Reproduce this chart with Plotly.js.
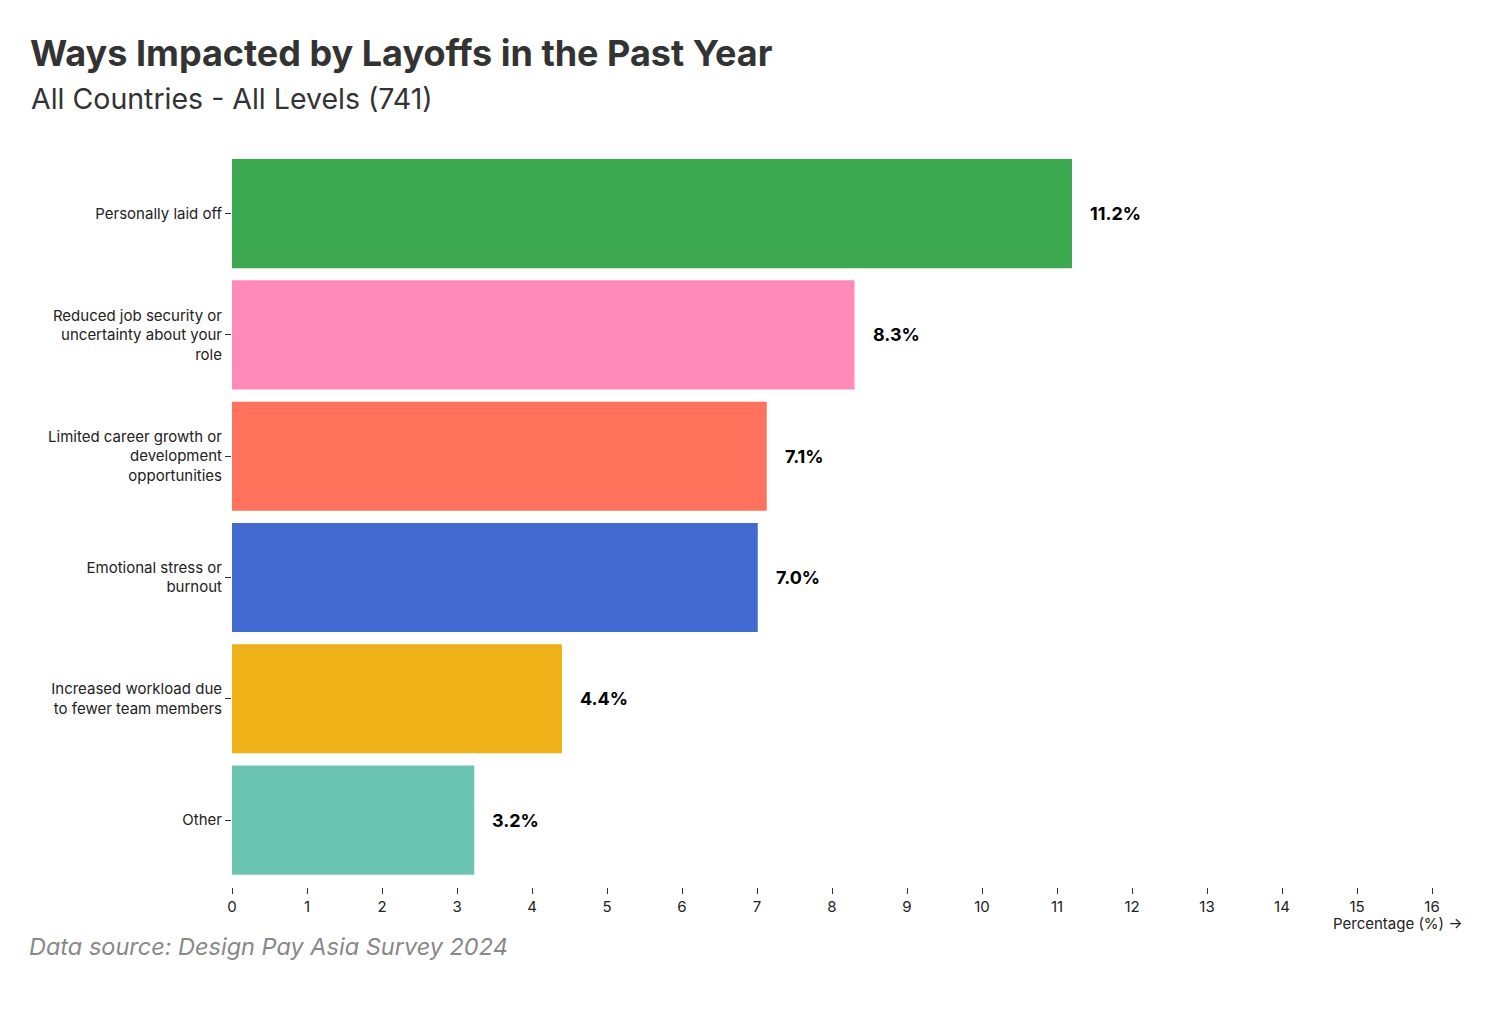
<!DOCTYPE html>
<html>
<head>
<meta charset="utf-8">
<script src="https://cdn.plot.ly/plotly-3.0.1.min.js"></script>
<style>
  html, body { margin: 0; padding: 0; background: #fff; }
  #chart { width: 1500px; height: 1022px; }
</style>
</head>
<body>
<div id="chart"></div>
<script>
// categories top to bottom
let categories = [
  'Personally laid off',
  'Reduced job security or<br>uncertainty about your<br>role',
  'Limited career growth or<br>development<br>opportunities',
  'Emotional stress or<br>burnout',
  'Increased workload due<br>to fewer team members',
  'Other'
];
let values = [11.2, 8.3, 7.13, 7.01, 4.4, 3.23];
let valueLabels = ['11.2%', '8.3%', '7.1%', '7.0%', '4.4%', '3.2%'];
let barColors = ['#3ca951', '#ff8ab7', '#ff725c', '#4269d0', '#efb118', '#6cc5b0'];
let xTicks = [0, 1, 2, 3, 4, 5, 6, 7, 8, 9, 10, 11, 12, 13, 14, 15, 16];

let font = 'Inter, "Noto Sans", sans-serif';

// plotly draws categories bottom-up, so reverse
let yCats = categories.slice().reverse();
let xVals = values.slice().reverse();
let cols = barColors.slice().reverse();
let labs = valueLabels.slice().reverse();

var trace = {
  type: 'bar',
  orientation: 'h',
  x: xVals,
  y: yCats,
  marker: { color: cols, line: { width: 0 } },
  hoverinfo: 'none'
};

var annotations = yCats.map(function (c, i) {
  return {
    x: xVals[i], y: c, xref: 'x', yref: 'y',
    text: '<b>' + labs[i] + '</b>',
    showarrow: false, xanchor: 'left', yanchor: 'middle', xshift: 16,
    font: { family: font, size: 18, color: '#000' }
  };
});

annotations.push({
  xref: 'paper', yref: 'paper', x: 1.0275, y: -0.0504,
  xanchor: 'right', yanchor: 'middle', showarrow: false,
  text: 'Percentage (%) →',
  font: { family: font, size: 15, color: '#222' }
});
annotations.push({
  xref: 'paper', yref: 'paper', x: -0.169, y: 1.0736,
  xanchor: 'left', yanchor: 'middle', showarrow: false,
  text: 'All Countries - All Levels (741)',
  font: { family: font, size: 28.5, color: '#333' }
});
annotations.push({
  xref: 'paper', yref: 'paper', x: -0.1705, y: -0.0817,
  xanchor: 'left', yanchor: 'middle', showarrow: false,
  text: '<i>Data source: Design Pay Asia Survey 2024</i>',
  font: { family: font, size: 23.5, color: '#888' }
});

var layout = {
  width: 1500,
  height: 1022,
  margin: { l: 232, r: 68, t: 153, b: 135 },
  paper_bgcolor: '#fff',
  plot_bgcolor: '#fff',
  title: {
    text: '<b>Ways Impacted by Layoffs in the Past Year</b>',
    x: 30 / 1500, xanchor: 'left', xref: 'container',
    y: 1 - 53 / 1022, yanchor: 'middle', yref: 'container',
    font: { family: font, size: 36, color: '#333' }
  },
  bargap: 0.1,
  showlegend: false,
  xaxis: {
    range: [0, 16],
    tickvals: xTicks,
    ticks: 'outside', ticklen: 6, tickcolor: '#333',
    showgrid: false, zeroline: false, showline: false,
    tickfont: { family: font, size: 15, color: '#222' },
    fixedrange: true
  },
  yaxis: {
    type: 'category',
    categoryorder: 'array', categoryarray: yCats,
    range: [-0.552, 5.5],
    ticks: 'outside', ticklen: 6, tickcolor: '#333',
    showgrid: false, zeroline: false, showline: false,
    tickfont: { family: font, size: 15, color: '#222' },
    fixedrange: true
  },
  annotations: annotations
};

Plotly.newPlot('chart', [trace], layout, { displayModeBar: false, staticPlot: true });
</script>
</body>
</html>
